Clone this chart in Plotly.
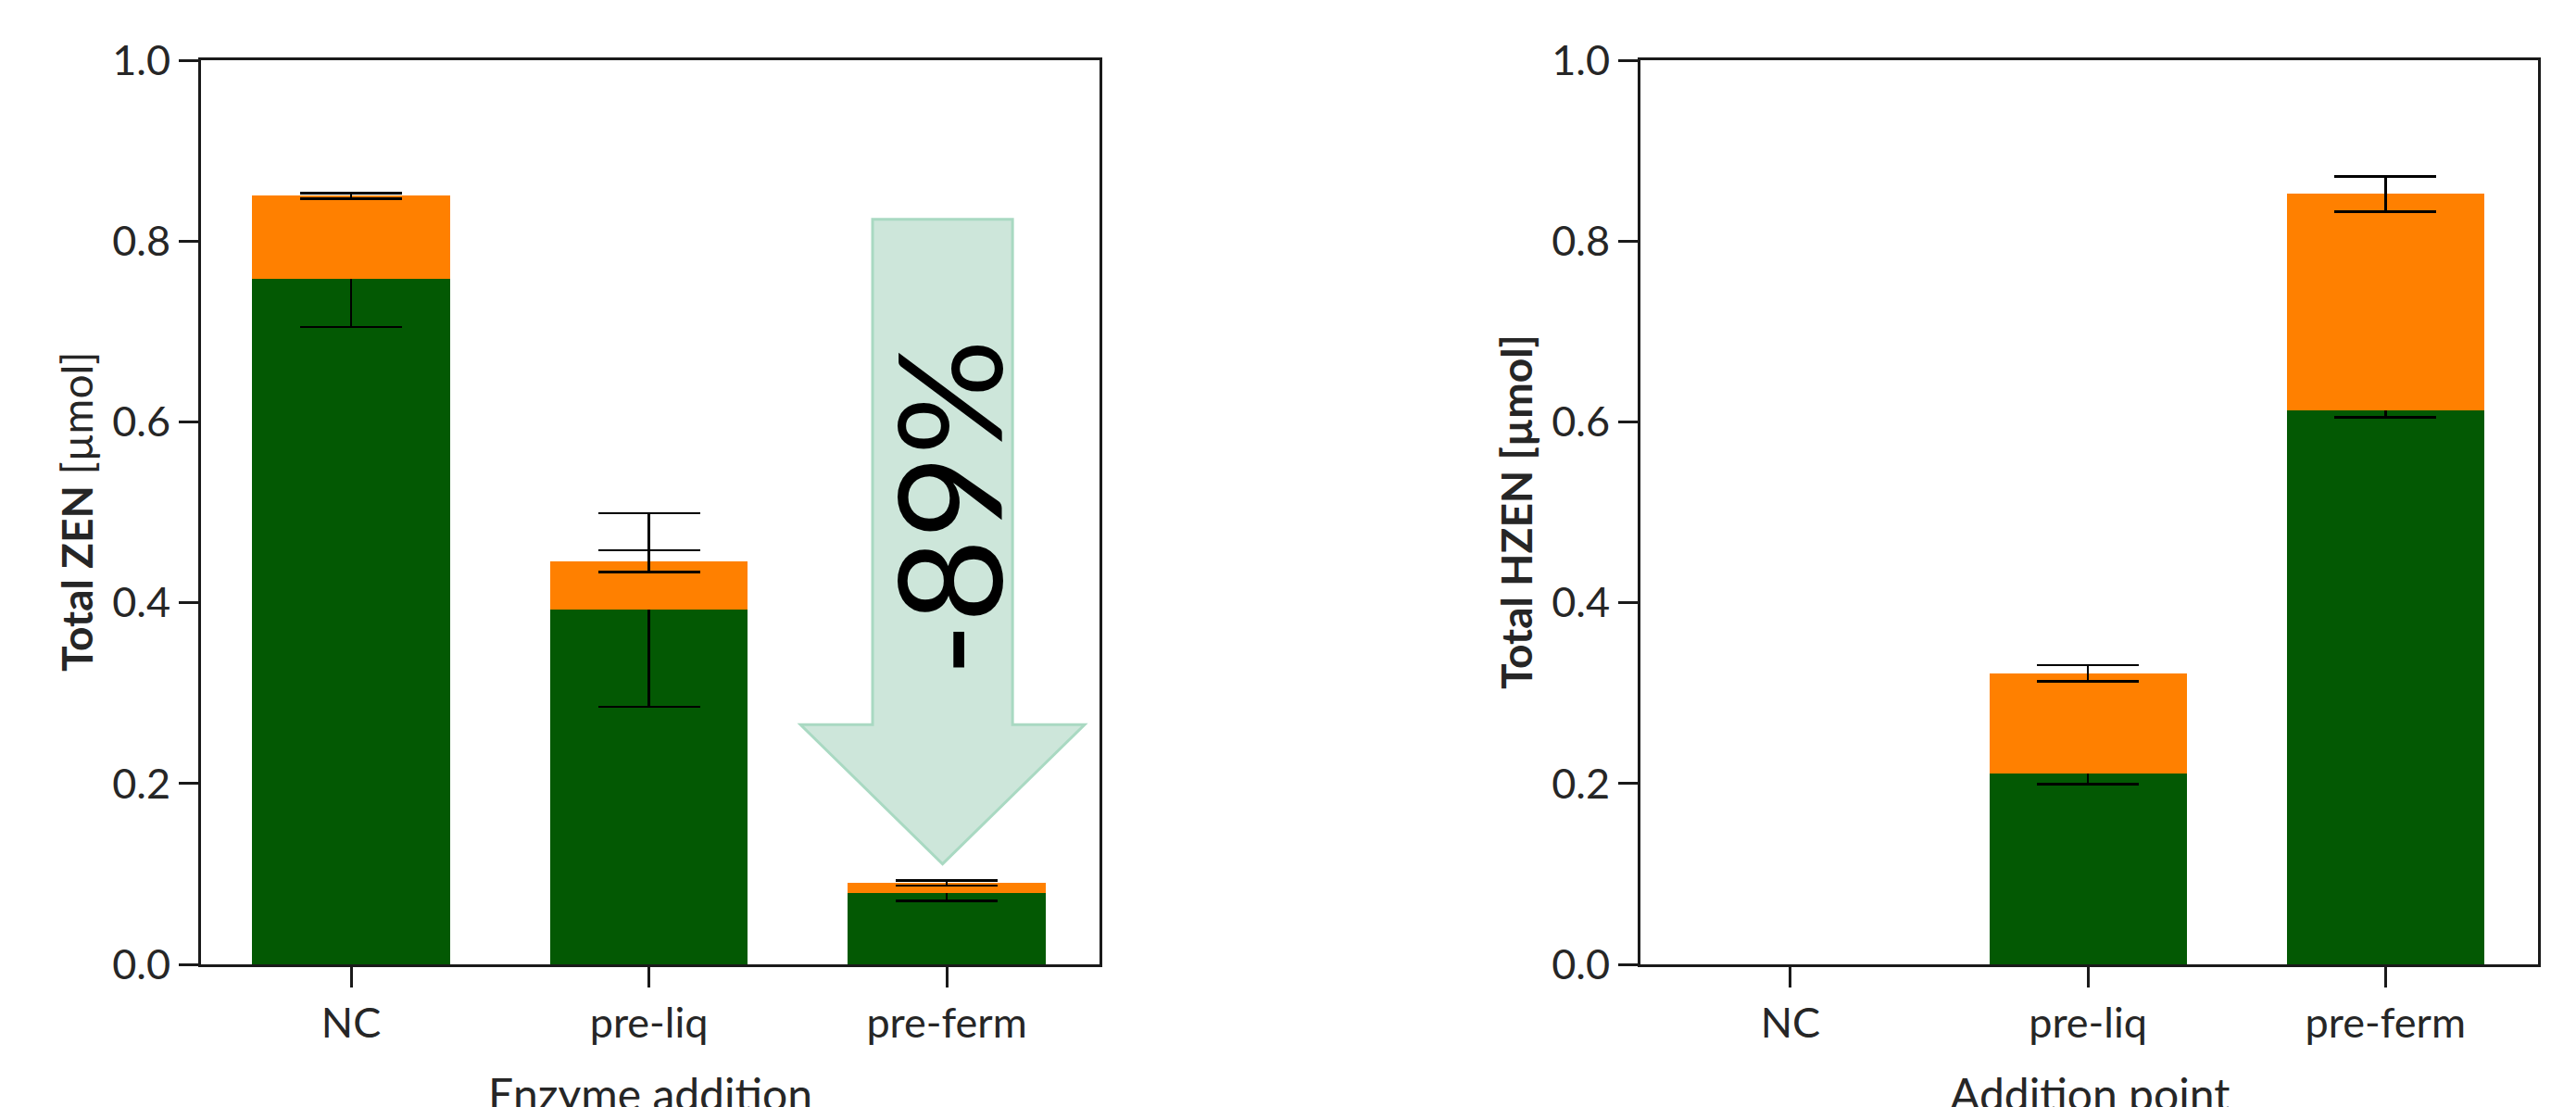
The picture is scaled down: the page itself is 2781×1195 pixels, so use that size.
import plotly.graph_objects as go

# ---------------- data ----------------
categories = ["NC", "pre-liq", "pre-ferm"]
cat_pos = [0, 1, 2]

zen_green = [0.758, 0.392, 0.079]
zen_green_err = [0.053, 0.107, 0.009]
zen_orange = [0.092, 0.054, 0.011]
zen_total_err = [0.003, 0.012, 0.003]

hzen_green = [None, 0.211, 0.613]
hzen_green_err = [None, 0.012, 0.008]
hzen_orange = [None, 0.111, 0.239]
hzen_total_err = [None, 0.009, 0.0195]

y_ticks = [0.0, 0.2, 0.4, 0.6, 0.8, 1.0]
y_tick_text = ["%.1f" % v for v in y_ticks]

reduction_label = "-89%"

# ---------------- style ----------------
GREEN = "#035903"
ORANGE = "#ff8000"
FONT = "Lato"
TXT = "#262626"
BAR_W = 0.663
ERR = dict(color="black", thickness=2.6, width=55)

fig = go.Figure()


def add_stack(green, green_err, orange, total_err, xa, ya):
    fig.add_trace(go.Bar(
        x=cat_pos, y=green, width=BAR_W, marker=dict(color=GREEN, line=dict(width=0)),
        error_y=dict(type="data", array=green_err, visible=True, **ERR),
        xaxis=xa, yaxis=ya, showlegend=False))
    fig.add_trace(go.Bar(
        x=cat_pos, y=orange, width=BAR_W, marker=dict(color=ORANGE, line=dict(width=0)),
        error_y=dict(type="data", array=total_err, visible=True, **ERR),
        xaxis=xa, yaxis=ya, showlegend=False))


add_stack(zen_green, zen_green_err, zen_orange, zen_total_err, "x", "y")
add_stack(hzen_green, hzen_green_err, hzen_orange, hzen_total_err, "x2", "y2")

W, H = 2781, 1195
OFF = 8  # page body margin


def px_x(p):
    return (p - OFF) / W


def px_y(p):
    return (H - (p - OFF)) / H


x_dom1 = [px_x(217), px_x(1187)]
x_dom2 = [px_x(1771), px_x(2740)]
y_dom = [px_y(1041), px_y(65)]

axis_common = dict(showline=True, linewidth=3, linecolor="#1a1a1a", mirror=True,
                   ticks="outside", tickwidth=3, tickcolor="#1a1a1a",
                   showgrid=False, zeroline=False, automargin=False,
                   tickfont=dict(family=FONT, size=45, color=TXT))

xcommon = dict(axis_common, range=[-0.504, 2.513], tickvals=cat_pos, ticktext=categories, ticklen=22)
ycommon = dict(axis_common, range=[0, 1], tickvals=y_ticks, ticktext=y_tick_text, ticklen=21)

fig.update_layout(
    width=W, height=H,
    margin=dict(l=0, r=0, t=0, b=0, pad=0, autoexpand=False),
    paper_bgcolor="white", plot_bgcolor="white",
    barmode="stack",
    xaxis=dict(xcommon, domain=x_dom1, anchor="y"),
    yaxis=dict(ycommon, domain=y_dom, anchor="x"),
    xaxis2=dict(xcommon, domain=x_dom2, anchor="y2"),
    yaxis2=dict(ycommon, domain=y_dom, anchor="x2"),
)

# axis titles (annotations, to place them exactly)
yc = px_y(553)
fig.add_annotation(text="<b>Total ZEN</b> [µmol]", xref="paper", yref="paper",
                   x=px_x(82), y=yc, textangle=-90, showarrow=False,
                   font=dict(family=FONT, size=46, color=TXT), xanchor="center", yanchor="middle")
fig.add_annotation(text="<b>Total HZEN [µmol]</b>", xref="paper", yref="paper",
                   x=px_x(1636), y=yc, textangle=-90, showarrow=False,
                   font=dict(family=FONT, size=46, color=TXT), xanchor="center", yanchor="middle")
fig.add_annotation(text="Enzyme addition", xref="paper", yref="paper",
                   x=(x_dom1[0] + x_dom1[1]) / 2, y=px_y(1180), showarrow=False,
                   font=dict(family=FONT, size=48, color=TXT), xanchor="center", yanchor="middle")
fig.add_annotation(text="Addition point", xref="paper", yref="paper",
                   x=(x_dom2[0] + x_dom2[1]) / 2, y=px_y(1180), showarrow=False,
                   font=dict(family=FONT, size=48, color=TXT), xanchor="center", yanchor="middle")

# big block arrow pointing down onto the pre-ferm bar
ax_c, shaft_hw, head_hw = 1.986, 0.235, 0.477
y_top, y_base, y_tip = 0.824, 0.265, 0.111
path = (f"M {ax_c - shaft_hw},{y_top} L {ax_c + shaft_hw},{y_top} L {ax_c + shaft_hw},{y_base} "
        f"L {ax_c + head_hw},{y_base} L {ax_c},{y_tip} L {ax_c - head_hw},{y_base} "
        f"L {ax_c - shaft_hw},{y_base} Z")
fig.add_shape(type="path", path=path, xref="x", yref="y",
              fillcolor="#cde6da", line=dict(color="#a9d9c2", width=3), layer="above")
fig.add_annotation(text=reduction_label, xref="x", yref="y", x=1.997, y=0.505,
                   textangle=-90, showarrow=False,
                   font=dict(family=FONT, size=156, color="black"))

fig.write_html("out.html")
